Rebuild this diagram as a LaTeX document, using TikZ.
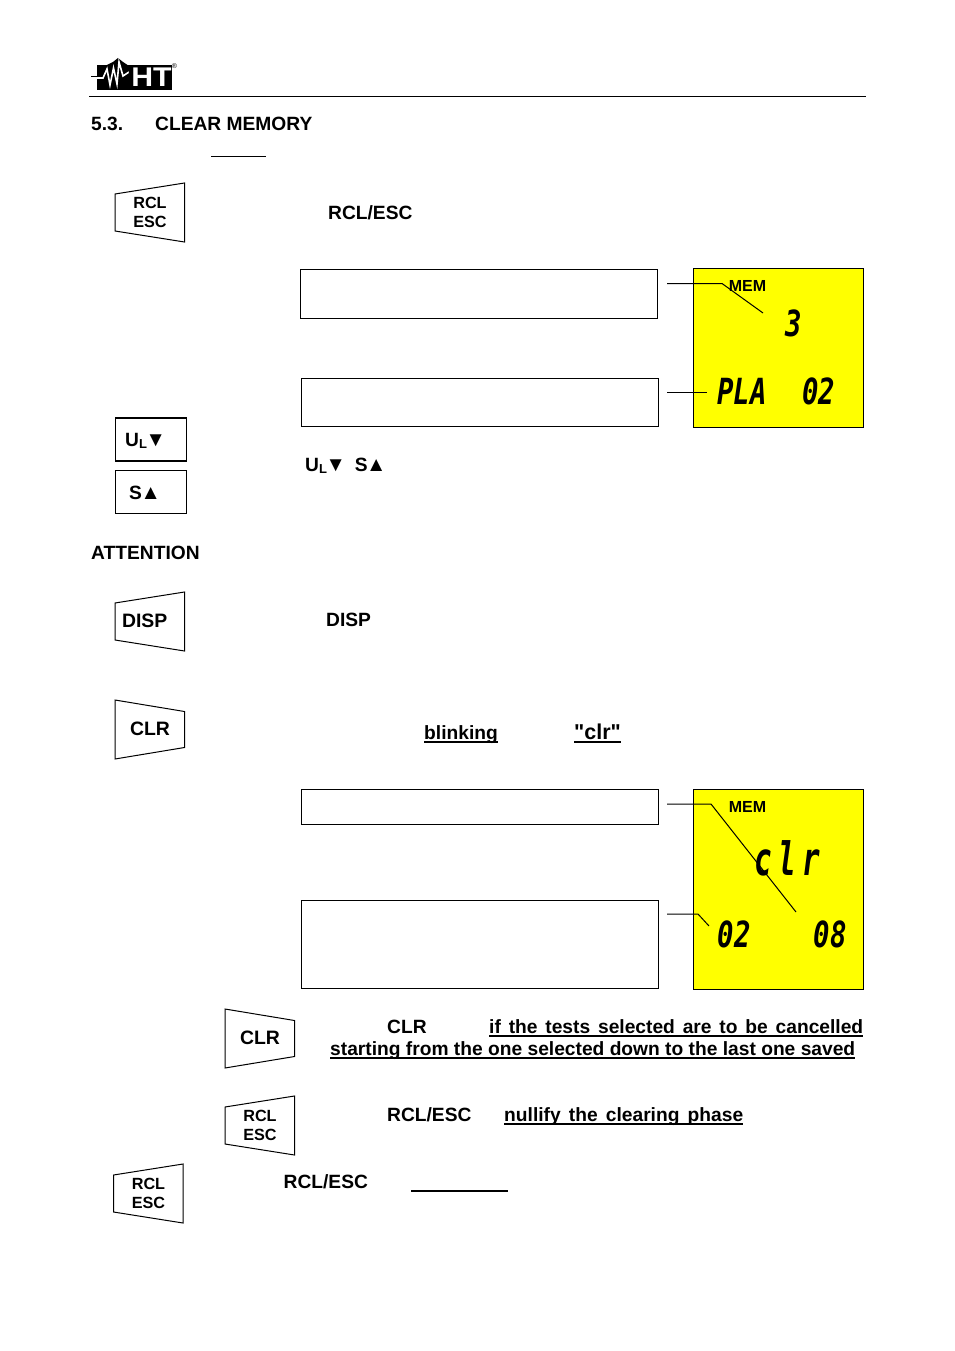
\documentclass[tikz,border=0pt]{standalone}
\usepackage{fontspec}
\setmainfont{Liberation Sans}
\newfontfamily\plainfont{Liberation Sans}
\newfontfamily\lcdfont{DejaVu Sans Mono}
\usetikzlibrary{positioning}
\definecolor{lcdyellow}{RGB}{255,255,0}

\tikzset{
  body/.style={font=\fontsize{19.2}{22}\selectfont\bfseries, inner sep=0pt, anchor=base west},
  keytext/.style={font=\fontsize{16.2}{19}\selectfont\bfseries, inner sep=0pt, align=center},
  keybig/.style={font=\fontsize{19.4}{22}\selectfont\bfseries, inner sep=0pt, align=center},
  memo/.style={draw, line width=1pt, outer sep=0pt, minimum width=357.5pt, inner sep=0pt, anchor=north west},
  lcd/.style={draw, line width=1pt, outer sep=0pt, fill=lcdyellow, minimum width=170pt, inner sep=0pt, anchor=north west},
  lcdtext/.style={font=\lcdfont\itshape\bfseries\fontsize{36}{36}\selectfont, inner sep=0pt, xscale=0.76, transform shape},
  memtext/.style={font=\fontsize{16}{18}\selectfont\bfseries, inner sep=0pt},
  leader/.style={line width=1pt},
}
\newcommand{\ultext}[1]{\setbox0\hbox{#1}\copy0\llap{\vrule width\wd0 height -2.2pt depth 3.6pt}}
\newcommand{\sublow}[1]{\raisebox{-2.5pt}{\fontsize{13}{13}\selectfont #1}}
\newcommand{\bigtri}[1]{\kern-1.5pt{\fontsize{20.5}{22}\selectfont #1}}
% key with its short side to the left
\newcommand{\keyleft}[5]{\node[#5] (#1) at (#2,#3) {#4};
  \draw[line width=1pt] (#1.center) ++(-35,-18) -- ++(69.5,-11) -- ++(0,59) -- ++(-69.5,-11) -- cycle;}
% key with its short side to the right
\newcommand{\keyright}[5]{\node[#5] (#1) at (#2,#3) {#4};
  \draw[line width=1pt] (#1.center) ++(-35,-29) -- ++(69.5,11.5) -- ++(0,36) -- ++(-69.5,11.5) -- cycle;}

\begin{document}
\begin{tikzpicture}[x=1pt,y=-1pt]
  \useasboundingbox (0,0) rectangle (954,1351);

  % Logo de la cabecera.
  \draw[line width=1pt] (91,77) -- (98,77);
  \fill (97,65) rectangle (172,90);
  \fill (105,66) -- (113,62) -- (118,58) -- (123,62) -- (129,66) -- cycle;
  \draw[white, line width=1.6pt] (97,78) -- (103,78) -- (107,69) -- (110,85) -- (113.5,68) -- (117,84) -- (119,62) -- (123,76) -- (129,72);
  \draw[line width=1pt] (129,72) -- (133,75);
  \node[font=\fontsize{27}{27}\selectfont\bfseries, text=white, inner sep=0pt, xscale=1.12, transform shape] (logo) at (151.5,77.5) {HT};
  \node[font=\fontsize{7}{7}\selectfont, inner sep=0pt] (regmark) at (174.5,66.5) {®};
  \draw[line width=1pt] (89,96.5) -- (866,96.5);

  % Titulo.
  \node[body] (secnum) at (91,131) {5.3.};
  \node[body] (title) at (155,131) {CLEAR MEMORY};
  \draw[line width=1pt] (211,156.5) -- (266,156.5);

  % Teclas.
  \keyleft{rcla}{150}{212}{RCL\\ESC}{keytext}
  \keyleft{disp}{150}{621}{\makebox[56pt][l]{DISP}}{keybig}
  \keyright{clra}{150}{729}{CLR}{keybig}
  \keyright{clrb}{260}{1038}{CLR}{keybig}
  \keyleft{rclb}{260}{1125}{RCL\\ESC}{keytext}
  \keyleft{rclc}{148.5}{1193}{RCL\\ESC}{keytext}
  \node[draw, line width=1.5pt, minimum width=71pt, minimum height=43pt, inner sep=0pt] (ulkey) at (151,439.5) {};
  \node[body] (ultxt) at (125,446) {U\sublow{L}\bigtri{▼}};
  \node[draw, line width=1pt, minimum width=71pt, minimum height=43pt, inner sep=0pt, below=8pt of ulkey] (skey) {};
  \node[body] (stxt) at (129,499) {S\bigtri{▲}};

  % Recuadros de texto.
  \node[memo, minimum height=49pt] (boxa) at (300,269) {};
  \node[memo, minimum height=48.5pt, minimum width=356.5pt] (boxb) at (301.5,378) {};
  \node[memo, minimum height=34.5pt, minimum width=356.5pt] (boxc) at (301.5,789.5) {};
  \node[memo, minimum height=88pt, minimum width=356.5pt] (boxd) at (301.5,900.5) {};

  % Pantallas.
  \node[lcd, minimum height=159pt] (lcda) at (693.5,268.5) {};
  \node[lcd, minimum height=200pt] (lcdb) at (693.5,789.5) {};
  \node[memtext] (mema) at (747.5,285.5) {MEM};
  \node[memtext] (memb) at (747.5,806.5) {MEM};
  \node[lcdtext] (lcdthree) at (793.5,323) {3};
  \node[lcdtext] (lcdpla) at (742,391) {PLA};
  \node[lcdtext] (lcdtwo) at (818.5,391) {02};
  \node[lcdtext, font=\lcdfont\itshape\bfseries\fontsize{46}{46}\selectfont, xscale=0.84] (lcdclr) at (787,858) {c\kern10pt l\kern10pt r};
  \node[lcdtext] (lcdzero) at (734,934) {02};
  \node[lcdtext] (lcdeight) at (830,934) {08};

  % Lineas de referencia.
  \coordinate (la) at (667,283.5);
  \coordinate (lb) at (763,313);
  \coordinate (lc) at (667,392);
  \coordinate (ld) at (707,392);
  \coordinate (le) at (667,804);
  \coordinate (lf) at (796,912);
  \coordinate (lg) at (667,914);
  \coordinate (lh) at (709,926);
  \draw[leader] (la) -- (722,283.5) -- (lb);
  \draw[leader] (lc) -- (ld);
  \draw[leader] (le) -- (711,804) -- (lf);
  \draw[leader] (lg) -- (698,914) -- (lh);

  % Textos sueltos.
  \node[body] (rcltxt) at (328,219) {RCL/ESC};
  \node[body] (ultxtb) at (305,471) {U\sublow{L}\bigtri{▼}\hspace{9pt}S\bigtri{▲}};
  \node[body] (attn) at (91,559) {ATTENTION};
  \node[body] (disptxt) at (326,626) {DISP};
  \node[body] (blink) at (424,739) {\ultext{blinking}};
  \node[body, font=\plainfont\fontsize{21.5}{24}\selectfont\bfseries] (clrquote) at (574,739) {\ultext{"clr"}};
  \node[body] (clrtxt) at (387,1033) {CLR};
  \node[body] (iftxt) at (489,1033) {\ultext{\makebox[374pt][s]{if the tests selected are to be cancelled}}};
  \node[body] (starttxt) at (330,1055) {\ultext{\makebox[525pt][s]{starting from the one selected down to the last one saved}}};
  \node[body] (rcltxtb) at (387,1121) {RCL/ESC};
  \node[body] (nullify) at (504,1121) {\ultext{\makebox[239pt][s]{nullify the clearing phase}}};
  \node[body] (rcltxtc) at (283.5,1188) {RCL/ESC};
  \draw[line width=1.3pt] (411,1191) -- (508,1191);
\end{tikzpicture}
\end{document}
